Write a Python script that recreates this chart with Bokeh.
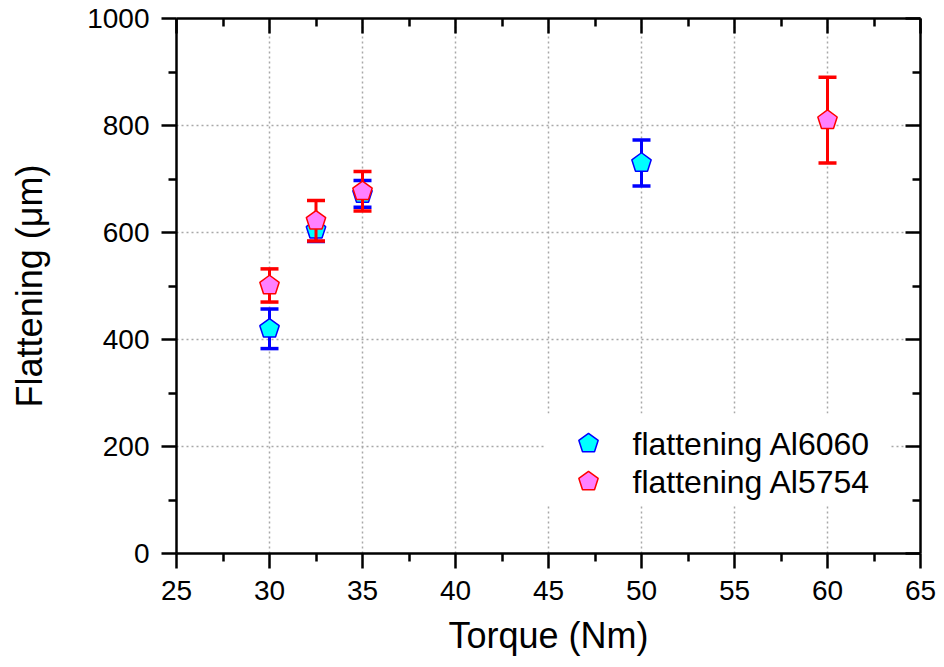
import math
from bokeh.plotting import figure
from bokeh.models import LinearAxis, Range1d, ColumnDataSource, FixedTicker
from bokeh.core.properties import value
from bokeh.embed import file_html
from bokeh.resources import INLINE

# ---- data ----
torque_6060 = [30, 32.5, 35, 50]
flat_6060 = [420, 605, 672, 730]
err_6060 = [37, 22, 25, 43]

torque_5754 = [30, 32.5, 35, 60]
flat_5754 = [501, 622, 677, 810]
err_5754 = [31, 38, 37, 80]

series_labels = ["flattening Al6060", "flattening Al5754"]

x_ticks = [25, 30, 35, 40, 45, 50, 55, 60, 65]
x_minor = [27.5, 32.5, 37.5, 42.5, 47.5, 52.5, 57.5, 62.5]
y_ticks = [0, 200, 400, 600, 800, 1000]
y_minor = [100, 300, 500, 700, 900]

FONT = "Liberation Sans"

# ---- layout (pixels) ----
W, H = 944, 667
FL, FR, FT, FB = 176, 920, 18, 553   # frame edges in pixels
X0, X1, Y0, Y1 = 25, 65, 0, 1000

def px_to_x(px):
    return X0 + (px - FL) / (FR - FL) * (X1 - X0)

def py_to_y(py):
    return Y0 + (FB - py) / (FB - FT) * (Y1 - Y0)

UX = (X1 - X0) / (FR - FL)   # data units per pixel
UY = (Y1 - Y0) / (FB - FT)

p = figure(width=W, height=H, output_backend="svg", toolbar_location=None,
           x_range=Range1d(X0, X1), y_range=Range1d(Y0, Y1),
           min_border_left=FL, min_border_right=W - FR, min_border_top=FT,
           min_border_bottom=H - FB, x_axis_label="Torque (Nm)",
           y_axis_label="Flattening (\u03bcm)")
p.outline_line_color = None
p.background_fill_color = "white"
p.border_fill_color = "white"

def style_axis(ax, labels=True, inward=False):
    ax.axis_line_width = 2.5
    ax.axis_line_color = "black"
    ax.major_tick_line_width = 2.5
    ax.minor_tick_line_width = 2.5
    ax.major_tick_line_color = "black"
    ax.minor_tick_line_color = "black"
    if inward:
        ax.major_tick_in, ax.major_tick_out = 15, 0
        ax.minor_tick_in, ax.minor_tick_out = 8, 0
    else:
        ax.major_tick_in, ax.major_tick_out = 0, 15
        ax.minor_tick_in, ax.minor_tick_out = 0, 8
    ax.major_label_text_font = FONT
    ax.major_label_text_font_size = "28px"
    ax.major_label_text_color = "black"
    ax.axis_label_text_font = FONT
    ax.axis_label_text_font_size = "36px"
    ax.axis_label_text_font_style = "normal"
    ax.axis_label_text_color = "black"
    if not labels:
        ax.major_label_text_alpha = 0
        ax.major_label_text_font_size = "1px"

xt = FixedTicker(ticks=x_ticks, minor_ticks=x_minor)
yt = FixedTicker(ticks=y_ticks, minor_ticks=y_minor)

p.xaxis.ticker = xt
p.yaxis.ticker = yt
style_axis(p.xaxis[0])
style_axis(p.yaxis[0])
p.xaxis[0].major_label_standoff = 12
p.yaxis[0].major_label_standoff = 12
p.xaxis[0].axis_label_standoff = 12
p.yaxis[0].axis_label_standoff = 34

top = LinearAxis(ticker=xt)
style_axis(top, labels=False, inward=True)
right = LinearAxis(ticker=yt)
style_axis(right, labels=False, inward=True)
p.add_layout(top, "above")
p.add_layout(right, "right")

p.xgrid.ticker = FixedTicker(ticks=x_ticks[1:-1])
p.ygrid.ticker = FixedTicker(ticks=y_ticks[1:-1])
for g in (p.xgrid, p.ygrid):
    g.grid_line_color = "#a8a8a8"
    g.grid_line_dash = "2 3"
    g.grid_line_width = 1.5

R = 10.2  # pentagon radius in pixels

def pentagon(cx, cy):
    xs, ys = [], []
    for k in range(5):
        a = math.pi / 2 + k * 2 * math.pi / 5
        xs.append(cx + R * math.cos(a) * UX)
        ys.append(cy + R * math.sin(a) * UY)
    return xs, ys

def series(xs, ys, es, line, fill):
    src = ColumnDataSource(dict(x=xs, y=ys, lo=[a - b for a, b in zip(ys, es)],
                                hi=[a + b for a, b in zip(ys, es)]))
    p.segment(x0="x", y0="lo", x1="x", y1="hi", source=src, line_color=line, line_width=3)
    p.scatter(x="x", y="hi", source=src, marker="dash", size=18, line_color=line, line_width=3.5)
    p.scatter(x="x", y="lo", source=src, marker="dash", size=18, line_color=line, line_width=3.5)
    polys = [pentagon(a, b) for a, b in zip(xs, ys)]
    p.patches(xs=[q[0] for q in polys], ys=[q[1] for q in polys],
              fill_color=fill, line_color=line, line_width=1.5)

series(torque_6060, flat_6060, err_6060, "#0000ff", "#00ffff")
series(torque_5754, flat_5754, err_5754, "#ff0000", "#ff80ff")

# ---- legend (drawn by hand to get pentagon symbols) ----
p.quad(left=px_to_x(545), right=px_to_x(890), top=py_to_y(413), bottom=py_to_y(505),
       fill_color="white", line_color=None)
leg_rows = [443, 481]
leg_styles = [("#0000ff", "#00ffff"), ("#ff0000", "#ff80ff")]
for row, (line, fill), lab in zip(leg_rows, leg_styles, series_labels):
    qx, qy = pentagon(px_to_x(588), py_to_y(row))
    p.patches(xs=[qx], ys=[qy], fill_color=fill, line_color=line, line_width=1.5)
    p.text(x=[px_to_x(632)], y=[py_to_y(row)], text=[lab], text_font=value(FONT),
           text_font_size="32px", text_baseline="middle", text_align="left",
           text_color="black")

open("out.html", "w").write(file_html(p, INLINE))
